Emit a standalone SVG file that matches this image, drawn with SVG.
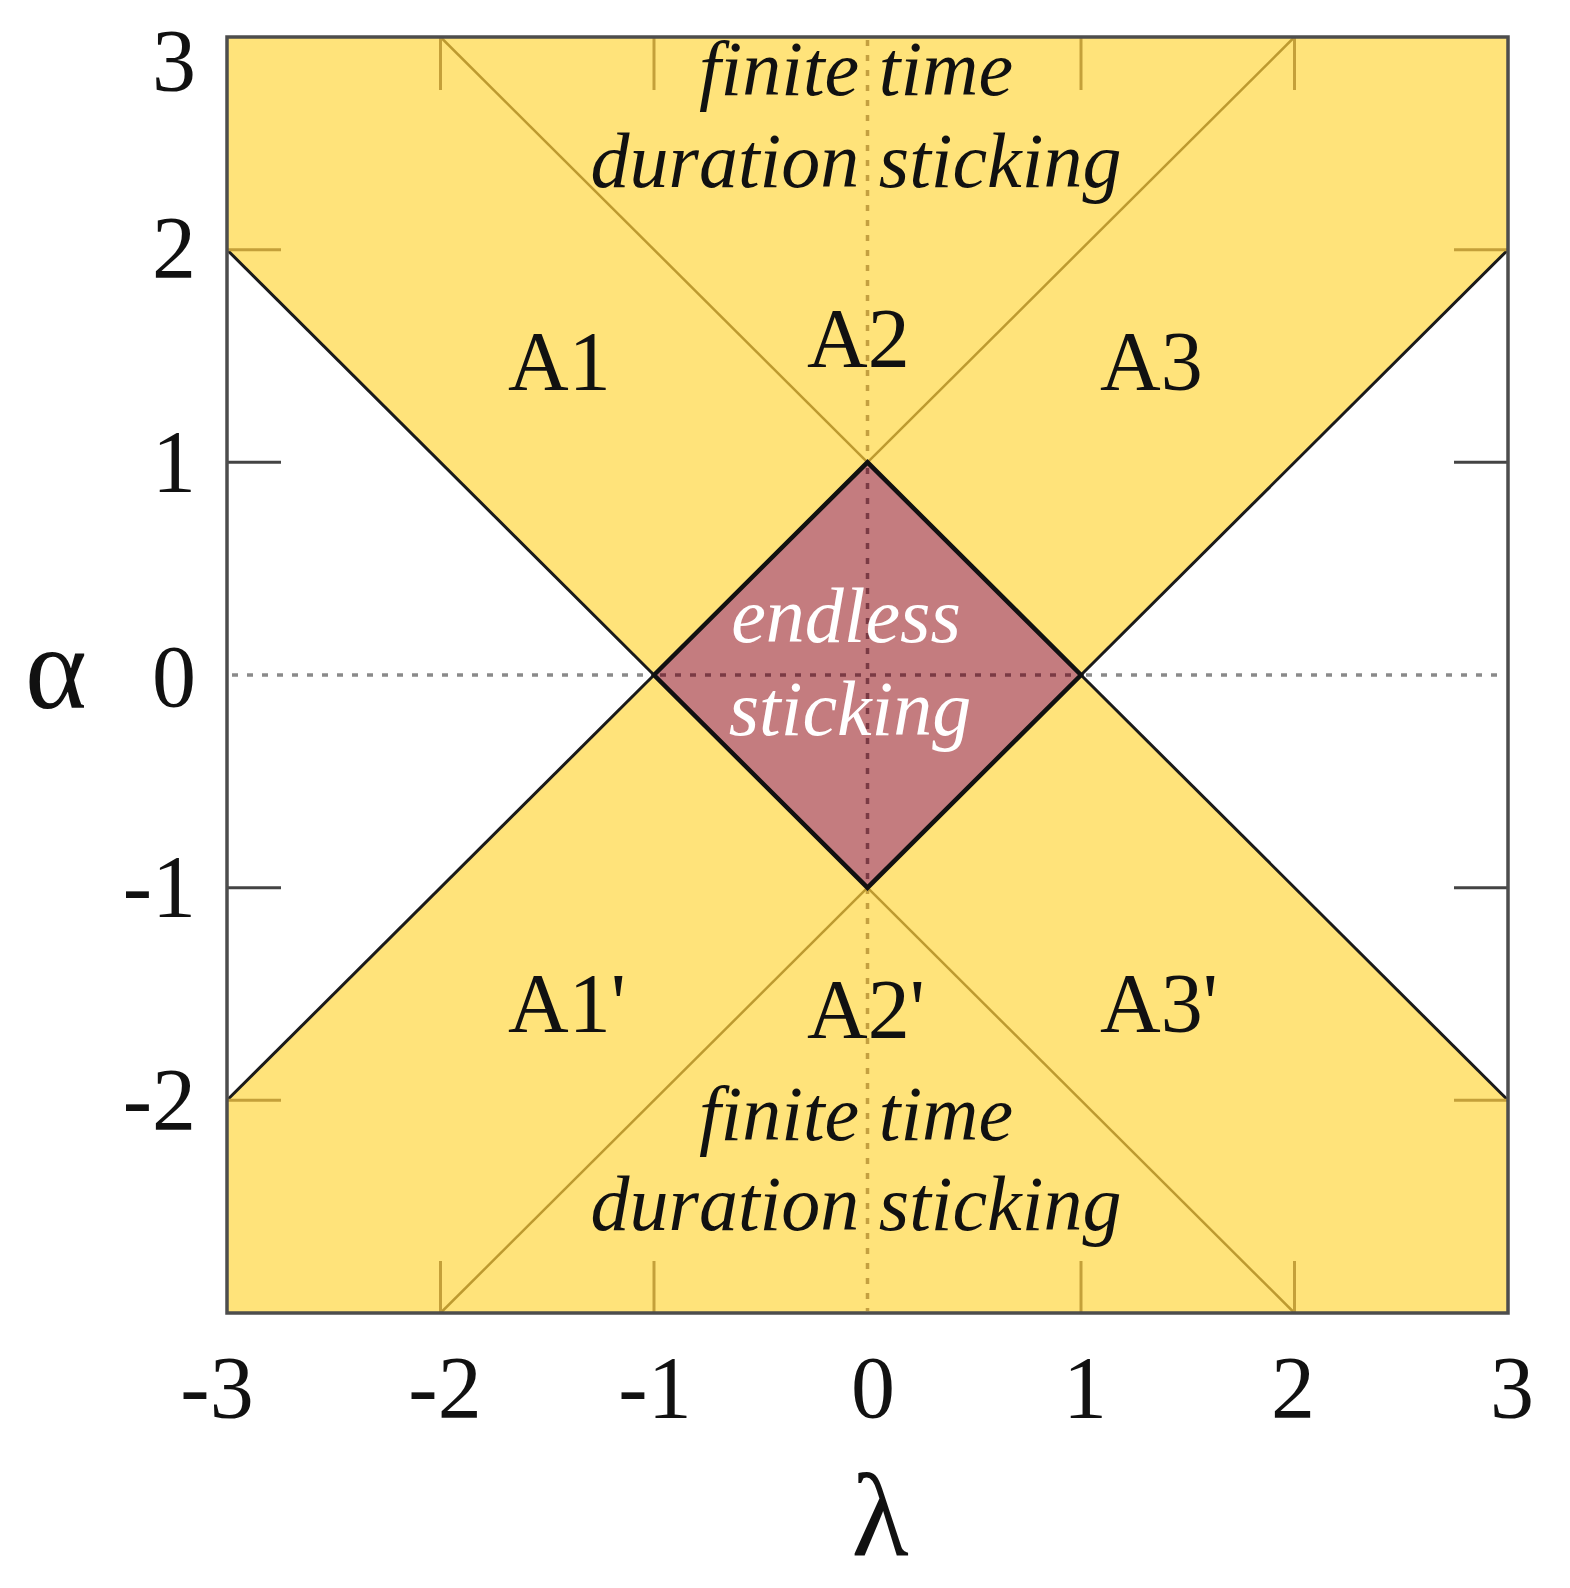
<svg xmlns="http://www.w3.org/2000/svg" width="1570" height="1588" viewBox="0 0 1570 1588">
<style>
.tick-lbl{font-family:"Liberation Serif","Times New Roman",serif;font-size:88px;fill:#111}
.axis-lbl{font-family:"Liberation Serif","Times New Roman",serif;font-size:118px;fill:#111}
.region{font-family:"Liberation Serif","Times New Roman",serif;font-size:84px;fill:#111}
.note{font-family:"Liberation Serif","Times New Roman",serif;font-style:italic;font-size:78px;fill:#111;text-anchor:middle}
.note-w{font-family:"Liberation Serif","Times New Roman",serif;font-style:italic;font-size:78px;fill:#ffffff;text-anchor:middle}
.thin{stroke:#bd9a30;stroke-width:2.5;fill:none}
.bound{stroke:#1a1a1a;stroke-width:3;fill:none}
.tick-y{stroke:#c4a03a;stroke-width:3}
.tick-g{stroke:#444;stroke-width:3}
.dot{stroke-width:3.5;stroke-dasharray:6 9;fill:none}
</style>
<rect width="1570" height="1588" fill="#ffffff"/>
<g id="regions">
  <rect id="yellow-area" x="227" y="37" width="1281" height="1276" fill="#ffe37a"/>
  <polygon id="white-left" points="227,249.7 654,675 227,1100.3" fill="#ffffff"/>
  <polygon id="white-right" points="1508,249.7 1081,675 1508,1100.3" fill="#ffffff"/>
  <polygon id="diamond" points="654,675 867.5,462.3 1081,675 867.5,887.7" fill="#c47c7f"/>
</g>
<g id="grid">
  <line class="dot" x1="867.5" y1="40" x2="867.5" y2="462" stroke="#c4a040"/>
  <line class="dot" x1="867.5" y1="888" x2="867.5" y2="1311" stroke="#c4a040"/>
  <line class="dot" x1="867.5" y1="468" x2="867.5" y2="884" stroke="#7a3a44"/>
  <line class="dot" x1="232" y1="675" x2="650" y2="675" stroke="#8a8a8a"/>
  <line class="dot" x1="1086" y1="675" x2="1505" y2="675" stroke="#8a8a8a"/>
  <line class="dot" x1="660" y1="675" x2="1077" y2="675" stroke="#7a3a44"/>
</g>
<g id="connectors">
  <line class="thin" x1="440.5" y1="37" x2="867.5" y2="462.3"/>
  <line class="thin" x1="867.5" y1="462.3" x2="1294.5" y2="37"/>
  <line class="thin" x1="440.5" y1="1313" x2="867.5" y2="887.7"/>
  <line class="thin" x1="867.5" y1="887.7" x2="1294.5" y2="1313"/>
  <line class="bound" x1="227" y1="249.7" x2="654" y2="675"/>
  <line class="bound" x1="227" y1="1100.3" x2="654" y2="675"/>
  <line class="bound" x1="1508" y1="249.7" x2="1081" y2="675"/>
  <line class="bound" x1="1508" y1="1100.3" x2="1081" y2="675"/>
  <polygon points="654,675 867.5,462.3 1081,675 867.5,887.7" fill="none" stroke="#111" stroke-width="4.5" stroke-linejoin="miter"/>
</g>
<g id="ticks">
  <line class="tick-y" x1="227" y1="249.7" x2="281" y2="249.7"/>
  <line class="tick-g" x1="227" y1="462.3" x2="281" y2="462.3"/>
  <line class="tick-g" x1="227" y1="887.7" x2="281" y2="887.7"/>
  <line class="tick-y" x1="227" y1="1100.3" x2="281" y2="1100.3"/>
  <line class="tick-y" x1="1508" y1="249.7" x2="1454" y2="249.7"/>
  <line class="tick-g" x1="1508" y1="462.3" x2="1454" y2="462.3"/>
  <line class="tick-g" x1="1508" y1="887.7" x2="1454" y2="887.7"/>
  <line class="tick-y" x1="1508" y1="1100.3" x2="1454" y2="1100.3"/>
  <line class="tick-y" x1="440.5" y1="37" x2="440.5" y2="90"/>
  <line class="tick-y" x1="654" y1="37" x2="654" y2="90"/>
  <line class="tick-y" x1="1081" y1="37" x2="1081" y2="90"/>
  <line class="tick-y" x1="1294.5" y1="37" x2="1294.5" y2="90"/>
  <line class="tick-y" x1="440.5" y1="1313" x2="440.5" y2="1261"/>
  <line class="tick-y" x1="654" y1="1313" x2="654" y2="1261"/>
  <line class="tick-y" x1="1081" y1="1313" x2="1081" y2="1261"/>
  <line class="tick-y" x1="1294.5" y1="1313" x2="1294.5" y2="1261"/>
</g>
<rect id="frame" x="227" y="37" width="1281" height="1276" fill="none" stroke="#4d4d4d" stroke-width="3.5"/>
<g id="y-labels" class="tick-lbl" text-anchor="end">
  <text x="196" y="90">3</text>
  <text x="196" y="277">2</text>
  <text x="196" y="491">1</text>
  <text x="196" y="706">0</text>
  <text x="196" y="916">-1</text>
  <text x="196" y="1129">-2</text>
</g>
<g id="x-labels" class="tick-lbl" text-anchor="middle">
  <text x="217" y="1417">-3</text>
  <text x="445" y="1417">-2</text>
  <text x="655" y="1417">-1</text>
  <text x="873" y="1417">0</text>
  <text x="1085" y="1417">1</text>
  <text x="1293" y="1417">2</text>
  <text x="1512" y="1417">3</text>
</g>
<g id="axis-titles" class="axis-lbl" text-anchor="middle">
  <text x="56" y="708">α</text>
  <text x="880" y="1555">λ</text>
</g>
<g id="region-labels" class="region">
  <text x="508" y="390">A1</text>
  <text x="807" y="367">A2</text>
  <text x="1100" y="390">A3</text>
  <text x="508" y="1032">A1'</text>
  <text x="807" y="1038">A2'</text>
  <text x="1100" y="1032">A3'</text>
</g>
<g id="top-note">
  <text class="note" x="856" y="95">finite time</text>
  <text class="note" x="856" y="187">duration sticking</text>
</g>
<g id="bottom-note">
  <text class="note" x="856" y="1140">finite time</text>
  <text class="note" x="856" y="1230">duration sticking</text>
</g>
<g id="center-note">
  <text class="note-w" x="846" y="642">endless</text>
  <text class="note-w" x="850" y="735">sticking</text>
</g>
</svg>
